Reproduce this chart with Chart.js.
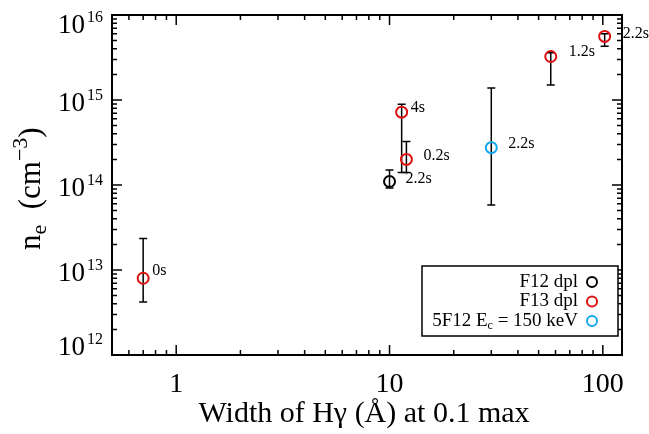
<!DOCTYPE html>
<html>
<head>
<meta charset="utf-8">
<script src="https://cdn.jsdelivr.net/npm/chart.js@4.4.1/dist/chart.umd.min.js"></script>
<style>
  html, body { margin: 0; padding: 0; background: #fff; }
</style>
</head>
<body>
<canvas id="grafico" width="649" height="434"></canvas>
<script>
// ====================================
// DADOS
// ====================================

// F12 dpl
const f12Width = [10];
const f12Density = [1.1e14];
const f12Low = [9.2e13];
const f12High = [1.5e14];
const f12Times = ["2.2s"];

// F13 dpl
const f13Width = [0.7, 11.4, 12, 57, 102];
const f13Density = [8.0e12, 7.2e14, 2.0e14, 3.25e15, 5.6e15];
const f13Low = [4.2e12, 1.4e14, 1.4e14, 1.5e15, 4.3e15];
const f13High = [2.35e13, 8.9e14, 3.25e14, 3.6e15, 6.0e15];
const f13Times = ["0s", "4s", "0.2s", "1.2s", "2.2s"];

// 5F12 Ec = 150 keV
const f5Width = [30];
const f5Density = [2.75e14];
const f5Low = [5.8e13];
const f5High = [1.38e15];
const f5Times = ["2.2s"];

// EIXOS
const xTickValues = [1, 10, 100];
const xTickLabels = ["1", "10", "100"];
const yTickValues = [1e12, 1e13, 1e14, 1e15, 1e16];
const yTickExponents = ["12", "13", "14", "15", "16"];

const legendNames = ["F12 dpl", "F13 dpl", "5F12 E"];

// ====================================
// ESTILO
// ====================================
const SERIF = '"Liberation Serif", "Times New Roman", serif';
const RED = "#dd1111";
const BLUE = "#12a8f0";

// deslocamento dos rótulos de tempo (px)
const labelOffsets = [
  [[16, -3]],
  [[9, -7], [9, -4], [17, -4], [18, -5], [18, -3]],
  [[17, -4]]
];

function pt(xs, ys) {
  return xs.map((x, i) => ({ x: x, y: ys[i] }));
}

// barras de erro, caixa, marcas, rótulos, legenda
const desenho = {
  id: "desenho",

  beforeDatasetsDraw(chart) {
    const ctx = chart.ctx;
    const xs = chart.scales.x;
    const ys = chart.scales.y;
    ctx.save();
    ctx.strokeStyle = "#000";
    ctx.lineWidth = 1.5;
    chart.data.datasets.forEach(ds => {
      ds.data.forEach((p, i) => {
        const px = xs.getPixelForValue(p.x);
        const y1 = ys.getPixelForValue(ds.errLow[i]);
        const y2 = ys.getPixelForValue(ds.errHigh[i]);
        ctx.beginPath();
        ctx.moveTo(px, y1); ctx.lineTo(px, y2);
        ctx.moveTo(px - 4, y1); ctx.lineTo(px + 4, y1);
        ctx.moveTo(px - 4, y2); ctx.lineTo(px + 4, y2);
        ctx.stroke();
      });
    });
    ctx.restore();
  },

  afterDatasetsDraw(chart) {
    const ctx = chart.ctx;
    const a = chart.chartArea;
    const xs = chart.scales.x;
    const ys = chart.scales.y;
    ctx.save();

    // rótulos de tempo
    ctx.fillStyle = "#000";
    ctx.font = "16px " + SERIF;
    ctx.textAlign = "left";
    ctx.textBaseline = "middle";
    chart.data.datasets.forEach((ds, d) => {
      ds.data.forEach((p, i) => {
        const px = xs.getPixelForValue(p.x);
        const py = ys.getPixelForValue(p.y);
        const off = labelOffsets[d][i];
        ctx.fillText(ds.times[i], px + off[0], py + off[1]);
      });
    });

    // caixa
    ctx.strokeStyle = "#000";
    ctx.lineWidth = 2;
    ctx.strokeRect(a.left, a.top, a.right - a.left, a.bottom - a.top);

    // marcas internas
    ctx.lineWidth = 1.5;
    ctx.beginPath();
    const xDec = [-1, 0, 1, 2];
    xDec.forEach(e => {
      for (let m = 1; m <= 9; m++) {
        const v = m * Math.pow(10, e);
        const px = xs.getPixelForValue(v);
        if (px <= a.left + 1 || px >= a.right - 1) continue;
        const len = m === 1 ? 10 : 5;
        ctx.moveTo(px, a.bottom); ctx.lineTo(px, a.bottom - len);
        ctx.moveTo(px, a.top); ctx.lineTo(px, a.top + len);
      }
    });
    for (let e = 12; e <= 16; e++) {
      for (let m = 1; m <= 9; m++) {
        const v = m * Math.pow(10, e);
        const py = ys.getPixelForValue(v);
        if (py < a.top - 0.5 || py > a.bottom + 0.5) continue;
        const len = m === 1 ? 10 : 5;
        ctx.moveTo(a.left, py); ctx.lineTo(a.left + len, py);
        ctx.moveTo(a.right, py); ctx.lineTo(a.right - len, py);
      }
    }
    ctx.stroke();

    // rótulos do eixo x
    ctx.font = "28px " + SERIF;
    ctx.textAlign = "center";
    ctx.textBaseline = "alphabetic";
    xTickValues.forEach((v, i) => {
      ctx.fillText(xTickLabels[i], xs.getPixelForValue(v), 392);
    });

    // rótulos do eixo y com expoente
    yTickValues.forEach((v, i) => {
      const py = ys.getPixelForValue(v);
      const base = Math.min(Math.max(py + 11, a.top + 18), a.bottom);
      ctx.font = "16px " + SERIF;
      const we = ctx.measureText(yTickExponents[i]).width;
      ctx.textAlign = "right";
      ctx.fillText(yTickExponents[i], a.left - 9, base - 11);
      ctx.font = "27px " + SERIF;
      ctx.fillText("10", a.left - 11 - we, base);
    });

    // título do eixo x
    ctx.font = "30px " + SERIF;
    ctx.textAlign = "center";
    ctx.fillText("Width of H\u03b3 (\u00c5) at 0.1 max", 364, 422);

    // título do eixo y
    ctx.save();
    ctx.translate(40, 250);
    ctx.rotate(-Math.PI / 2);
    ctx.textAlign = "left";
    let x = 0;
    const parts = [
      ["n", 31, 0], ["e", 22, 6], ["  (cm", 31, 0], ["\u22123", 22, -13], [")", 31, 0]
    ];
    parts.forEach(p => {
      ctx.font = p[1] + "px " + SERIF;
      ctx.fillText(p[0], x, p[2]);
      x += ctx.measureText(p[0]).width;
    });
    ctx.restore();

    // legenda
    const L = { left: 422, top: 266, right: 618, bottom: 336 };
    ctx.fillStyle = "#fff";
    ctx.fillRect(L.left, L.top, L.right - L.left, L.bottom - L.top);
    ctx.strokeStyle = "#000";
    ctx.lineWidth = 1.5;
    ctx.strokeRect(L.left, L.top, L.right - L.left, L.bottom - L.top);
    ctx.fillStyle = "#000";
    ctx.textBaseline = "middle";
    chart.data.datasets.forEach((ds, i) => {
      const ry = 282 + i * 19.5;
      ctx.textAlign = "right";
      let tx = 578;
      if (i === 2) {
        ctx.font = "19px " + SERIF;
        ctx.fillText(" = 150 keV", tx, ry);
        tx -= ctx.measureText(" = 150 keV").width;
        ctx.font = "12px " + SERIF;
        ctx.fillText("c", tx, ry + 5);
        tx -= ctx.measureText("c").width;
      }
      ctx.font = "19px " + SERIF;
      ctx.fillText(legendNames[i], tx, ry);
      ctx.beginPath();
      ctx.strokeStyle = ds.borderColor;
      ctx.lineWidth = 2;
      ctx.arc(592, ry, 5, 0, Math.PI * 2);
      ctx.stroke();
    });

    ctx.restore();
  }
};

function serie(xs, ys, lo, hi, times, cor) {
  return {
    data: pt(xs, ys),
    errLow: lo,
    errHigh: hi,
    times: times,
    borderColor: cor,
    backgroundColor: "rgba(0,0,0,0)",
    pointRadius: 5.5,
    pointBorderWidth: 2,
    pointStyle: "circle",
    showLine: false,
    clip: false
  };
}

new Chart(document.getElementById("grafico"), {
  type: "scatter",
  data: {
    datasets: [
      serie(f12Width, f12Density, f12Low, f12High, f12Times, "#000000"),
      serie(f13Width, f13Density, f13Low, f13High, f13Times, RED),
      serie(f5Width, f5Density, f5Low, f5High, f5Times, BLUE)
    ]
  },
  options: {
    responsive: false,
    animation: false,
    layout: { padding: { left: 112, right: 27, top: 15, bottom: 79 } },
    plugins: {
      legend: { display: false },
      tooltip: { enabled: false }
    },
    scales: {
      x: { type: "logarithmic", min: 0.5, max: 123, display: false },
      y: { type: "logarithmic", min: 1e12, max: 1e16, display: false }
    }
  },
  plugins: [desenho]
});
</script>
</body>
</html>
